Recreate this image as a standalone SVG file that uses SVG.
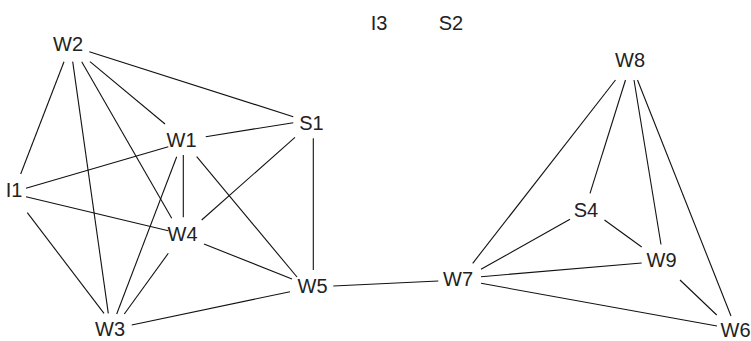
<svg xmlns="http://www.w3.org/2000/svg" width="751" height="341" viewBox="0 0 751 341">
<style>
.e line{stroke:#111;stroke-width:1.1;fill:none}
.n text{font-family:"Liberation Sans",Arial,sans-serif;font-size:20px;fill:#222;text-anchor:middle}
</style>
<rect width="751" height="341" fill="#fff"/>
<g id="connectors" class="e">
<line x1="89.3" y1="51.7" x2="293.3" y2="116.7"/>
<line x1="90" y1="61.7" x2="165" y2="124"/>
<line x1="81.7" y1="61.7" x2="171.7" y2="218.3"/>
<line x1="72.7" y1="61.7" x2="108.3" y2="313.3"/>
<line x1="64" y1="61.7" x2="20.7" y2="174"/>
<line x1="205.7" y1="136.7" x2="293.3" y2="122.7"/>
<line x1="168.3" y1="146.7" x2="26" y2="188.3"/>
<line x1="183.3" y1="155" x2="183.3" y2="217.3"/>
<line x1="176.7" y1="156.7" x2="116.7" y2="314"/>
<line x1="196.7" y1="156.7" x2="297" y2="277"/>
<line x1="295" y1="137.3" x2="201.7" y2="220"/>
<line x1="313.3" y1="138.3" x2="313.3" y2="270"/>
<line x1="26" y1="196.7" x2="168.3" y2="230.7"/>
<line x1="27.3" y1="212.7" x2="104" y2="313.3"/>
<line x1="168.3" y1="253.3" x2="124.3" y2="314"/>
<line x1="204" y1="244" x2="292" y2="279"/>
<line x1="131.7" y1="325" x2="290" y2="291.7"/>
<line x1="333.3" y1="286" x2="438.3" y2="281"/>
<line x1="615.5" y1="80" x2="472.7" y2="263.3"/>
<line x1="625.5" y1="80" x2="590" y2="193.3"/>
<line x1="634" y1="80" x2="661" y2="244.5"/>
<line x1="637.5" y1="80" x2="731" y2="316"/>
<line x1="570" y1="219.3" x2="481" y2="269.3"/>
<line x1="604.5" y1="220" x2="641.7" y2="247"/>
<line x1="641.7" y1="263" x2="481" y2="276.7"/>
<line x1="680" y1="280" x2="716.7" y2="315"/>
<line x1="481" y1="283.3" x2="717" y2="326"/>
</g>
<g id="W2" class="n"><text x="68" y="51">W2</text></g>
<g id="W1" class="n"><text x="181.5" y="147">W1</text></g>
<g id="S1" class="n"><text x="311.5" y="130">S1</text></g>
<g id="I1" class="n"><text x="14" y="197">I1</text></g>
<g id="W4" class="n"><text x="182.5" y="241">W4</text></g>
<g id="W5" class="n"><text x="312.5" y="293">W5</text></g>
<g id="W3" class="n"><text x="110" y="336">W3</text></g>
<g id="I3" class="n"><text x="379" y="30">I3</text></g>
<g id="S2" class="n"><text x="451" y="30">S2</text></g>
<g id="W8" class="n"><text x="630" y="67">W8</text></g>
<g id="S4" class="n"><text x="586" y="217">S4</text></g>
<g id="W9" class="n"><text x="661.5" y="267">W9</text></g>
<g id="W7" class="n"><text x="458" y="286">W7</text></g>
<g id="W6" class="n"><text x="735.5" y="337">W6</text></g>
</svg>
